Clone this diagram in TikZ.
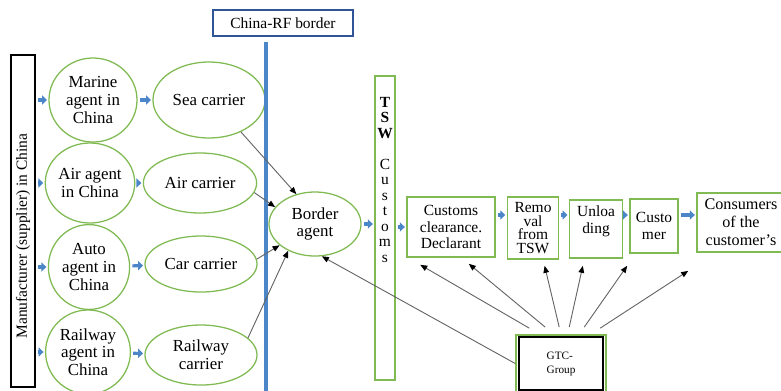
\documentclass[tikz,border=0pt]{standalone}
\usepackage{fontspec}
\setmainfont{Liberation Serif}
\usetikzlibrary{arrows.meta,shapes.geometric,calc,positioning}

\definecolor{boxgreen}{RGB}{127,186,82}
\definecolor{flowblue}{RGB}{74,134,200}
\definecolor{borderblue}{RGB}{47,85,151}
\definecolor{linegray}{RGB}{100,100,100}

\tikzset{
  agent/.style={ellipse, draw=boxgreen, line width=0.9pt, align=center, inner sep=0pt,
    font=\fontsize{12}{12.6}\selectfont},
  stage/.style={rectangle, draw=boxgreen, line width=1.1pt, align=center, inner sep=1pt,
    font=\fontsize{11}{12.5}\selectfont},
  flow/.style={draw=flowblue, line width=2.2pt, -{Triangle[length=3.5pt,width=6.5pt]},
    shorten <=1.5pt, shorten >=1pt},
  link/.style={draw=linegray, line width=0.65pt, -{Triangle[length=5pt,width=4pt,color=black]}}
}

\begin{document}
\begin{tikzpicture}[x=0.025cm, y=-0.025cm]
\useasboundingbox (0,0) rectangle (781,390);
%manufacturer
\node[draw=black, line width=0.9pt, minimum width=0.6cm, minimum height=8.3cm, inner sep=0pt] (maker) at (23,221) {};
\node[rotate=90, font=\fontsize{11}{12}\selectfont, inner sep=0pt] (makertext) at (23,236) {Manufacturer (supplier) in China};
%agents in China:
\node[agent, minimum width=2.2cm, minimum height=2.1cm] (marine) at (93,100) {Marine\\agent in\\China};
\node[agent, minimum width=2.03cm, minimum height=2.0cm] (airagent) at (90,183) {Air agent\\in China};
\node[agent, minimum width=2.03cm, minimum height=2.12cm] (auto) at (89,267) {Auto\\agent in\\China};
\node[agent, minimum width=2.12cm, minimum height=2.1cm] (railagent) at (88,352) {Railway\\agent in\\China};
%carriers:
\node[agent, minimum width=2.8cm, minimum height=1.9cm] (sea) at (209,100) {Sea carrier};
\node[agent, minimum width=2.83cm, minimum height=1.5cm] (air) at (200,183) {Air carrier};
\node[agent, minimum width=2.8cm, minimum height=1.4cm] (car) at (201,264) {Car carrier};
\node[agent, minimum width=2.8cm, minimum height=1.5cm] (rail) at (201,355) {Railway\\carrier};
%border
\draw[flowblue, line width=3pt] (266,42) -- (266,392);
\node[draw=borderblue, line width=0.9pt, minimum width=3.5cm, minimum height=0.65cm,
  font=\fontsize{11}{12}\selectfont] (rfborder) at (283,23) {China-RF border};
\node[agent, minimum width=2.3cm, minimum height=1.6cm] (border) at (315,224) {Border\\agent};
%customs and the stages after it
\node[stage, minimum width=0.5cm, minimum height=7.6cm] (tsw) at (385,228) {};
\node[anchor=north, align=center, inner sep=0pt, font=\fontsize{11}{11}\selectfont] (tswtext) at (385,97)
  {\textbf{T}\\\textbf{S}\\\textbf{W}\\[11pt]C\\u\\s\\t\\o\\m\\s};
\node[stage, minimum width=2.2cm, minimum height=1.5cm, font=\fontsize{11}{11.5}\selectfont] (clearance) at (451,227) {Customs\\clearance.\\Declarant};
\node[stage, minimum width=1.28cm, minimum height=1.55cm, font=\fontsize{11}{9.8}\selectfont] (removal) at (533,228) {Remo\\val\\from\\TSW};
\node[stage, minimum width=1.32cm, minimum height=1.45cm, text depth=13.5pt] (unloading) at (596,229) {Unloa\\ding};
\node[stage, minimum width=1.2cm, minimum height=1.35cm] (customer) at (654,226) {Custo\\mer};
\node[stage, minimum width=2.2cm, minimum height=1.48cm, font=\fontsize{11.5}{12.8}\selectfont] (consumers) at (741,222.5) {Consumers\\of the\\customer's};
%GTC group
\node[draw=boxgreen, line width=1.1pt, minimum width=2.25cm, minimum height=1.43cm, align=left,
  font=\fontsize{8}{10}\selectfont] (gtc) at (561,363.5) {GTC-\\Group};
\draw[black, line width=1.3pt] ($(gtc.north west)+(4,3)$) rectangle ($(gtc.south east)+(-4,-3)$);
%blue flow arrows
\draw[flow] (maker.east |- marine) -- (marine);
\draw[flow] (maker.east |- airagent) -- (airagent);
\draw[flow] (maker.east |- auto) -- (auto);
\draw[flow] (maker.east |- railagent) -- (railagent);
\draw[flow] (marine) -- (sea);
\draw[flow] (airagent) -- (air);
\draw[flow] (auto) -- (car);
\draw[flow] (railagent) -- (rail);
\draw[flow] (border) -- (border -| tsw.west);
\draw[flow] (tsw.east |- clearance) -- (clearance);
\coordinate (flowline) at (0,215);
\draw[flow] (clearance.east |- flowline) -- (removal.west |- flowline);
\draw[flow] (removal.east |- flowline) -- (unloading.west |- flowline);
\draw[flow] (unloading.east |- flowline) -- (customer.west |- flowline);
\draw[flow] (customer.east |- flowline) -- (consumers.west |- flowline);
%carriers to border agent
\draw[link] (sea.-45) -- (border.122);
\draw[link] (air.-10) -- (border.157);
\draw[link] (car.5) -- (border.211);
\draw[link] (rail.20) -- (border.225);
%GTC links
\draw[link] (gtc.west) -- (border.-78);
\draw[link] ($(gtc.north west)+(14,-6)$) -- ($(clearance.south west)+(14,7)$);
\draw[link] ($(gtc.north west)+(30,-7)$) -- ($(clearance.south east)+(-27,6)$);
\draw[link] ($(gtc.north west)+(44,-7)$) -- ($(removal.south west)+(38,6)$);
\draw[link] ($(gtc.north west)+(54,-7)$) -- ($(unloading.south west)+(14,7)$);
\draw[link] ($(gtc.north west)+(69,-7)$) -- ($(unloading.south east)+(4,7)$);
\draw[link] ($(gtc.north west)+(85,-6)$) -- ($(consumers.south west)+(-8,18)$);
\end{tikzpicture}
\end{document}
